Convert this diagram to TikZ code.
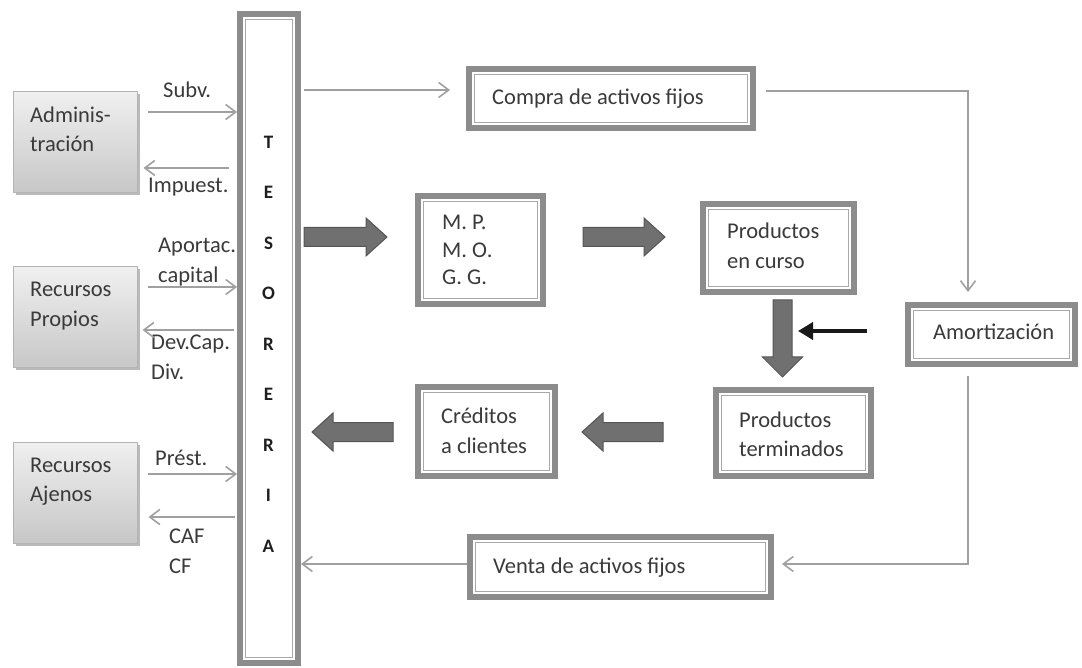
\documentclass[tikz,border=0pt]{standalone}
\usepackage{fontspec}
\setmainfont{Carlito}
\usetikzlibrary{arrows.meta,shadows}
\definecolor{bandc}{HTML}{8C8C8C}
\definecolor{innerc}{HTML}{A8A8A8}
\definecolor{txtc}{HTML}{3A3A3A}
\definecolor{connc}{HTML}{A0A0A0}
\definecolor{fatfill}{HTML}{707070}
\definecolor{fatdraw}{HTML}{555555}
\definecolor{lboxline}{HTML}{B4B4B4}
\begin{document}
\begin{tikzpicture}[x=1pt,y=-1pt,
  every node/.style={font=\fontsize{22.5}{29}\selectfont, text=txtc},
  dbox/.style={rectangle, draw=bandc, line width=6pt, fill=white, inner sep=0pt,
    path picture={\draw[innerc, line width=1.1pt]
      ([shift={(5.5pt,-5.5pt)}]path picture bounding box.north west) rectangle
      ([shift={(-5.5pt,5.5pt)}]path picture bounding box.south east);}},
  lbox/.style={rectangle, draw=lboxline, line width=1pt, inner sep=0pt,
    top color=black!6, bottom color=black!22, minimum width=124pt, minimum height=101pt,
    drop shadow={shadow xshift=2.5pt, shadow yshift=-2.5pt, fill=black!45, opacity=0.6}},
  lbl/.style={inner sep=0pt, anchor=base west, align=left},
  flow/.style={draw=connc, line width=1.6pt, -{Straight Barb[length=10pt,width=15pt,line width=1.6pt]}},
  blk/.style={draw=black!90, line width=4.5pt, -{Triangle[length=15pt,width=17pt]}},
  fat/.style={draw=fatdraw, fill=fatfill, line width=1pt, line join=miter}
]
\fill[white] (0,0) rectangle (1082,668);
\useasboundingbox (0,0) rectangle (1082,668);

% Tesoreria column
\node[dbox, minimum width=58pt, minimum height=649pt] (tes) at (269,338.5) {};
\node[inner sep=0pt, anchor=base, align=center, text=black!88,
      font=\fontsize{19}{50.5}\selectfont\bfseries] (testext) at (268.5,552)
      {T\\E\\S\\O\\R\\E\\R\\I\\A};

% left boxes
\node[lbox] (admin) at (75,142.5) {};
\node[lbox] (propios) at (75,317.5) {};
\node[lbox] (ajenos) at (75,492.5) {};
\node[lbl] (tadmin) at (30,152) {Adminis-\\tración};
\node[lbl, font=\fontsize{22.5}{30}\selectfont] (tpropios) at (30,327) {Recursos\\Propios};
\node[lbl] (tajenos) at (30,501) {Recursos\\Ajenos};

% double boxes
\node[dbox, minimum width=284pt, minimum height=59pt] (compra) at (611,98.5) {};
\node[dbox, minimum width=125pt, minimum height=108pt] (mp) at (480.5,250) {};
\node[dbox, minimum width=151pt, minimum height=88pt] (curso) at (778.5,248) {};
\node[dbox, minimum width=167pt, minimum height=59pt] (amort) at (991.5,334.5) {};
\node[dbox, minimum width=155pt, minimum height=86pt] (term) at (793.5,433) {};
\node[dbox, minimum width=137pt, minimum height=89pt] (cred) at (486.5,431.5) {};
\node[dbox, minimum width=301pt, minimum height=60pt] (venta) at (620.5,567) {};

\node[lbl] (tcompra) at (492,105) {Compra de activos fijos};
\node[lbl, font=\fontsize{22.5}{27.5}\selectfont] (tmp) at (442,285) {M. P.\\M. O.\\G. G.};
\node[lbl, font=\fontsize{22.5}{30}\selectfont] (tcurso) at (727,269) {Productos\\en curso};
\node[lbl] (tamort) at (933,340) {Amortización};
\node[lbl] (tterm) at (739,456) {Productos\\terminados};
\node[lbl, font=\fontsize{22.5}{30}\selectfont] (tcred) at (441,453) {Créditos\\a clientes};
\node[lbl] (tventa) at (493,573) {Venta de activos fijos};

% flow labels
\node[lbl] (lsubv) at (163,98) {Subv.};
\node[lbl] (limp) at (148,193) {Impuest.};
\node[lbl, font=\fontsize{22.5}{30}\selectfont] (lapor) at (158,283) {Aportac.\\capital};
\node[lbl, font=\fontsize{22.5}{30}\selectfont] (ldev) at (151,380) {Dev.Cap.\\Div.};
\node[lbl] (lprest) at (155,465) {Prést.};
\node[lbl, font=\fontsize{22.5}{30}\selectfont] (lcaf) at (169,573) {CAF\\CF};

% thin flows left
\draw[flow, shorten <=10pt] (admin.east |- 0,112) -- (tes.west |- 0,112);
\draw[flow, shorten <=8pt, shorten >=6pt] (tes.west |- 0,168) -- (admin.east |- 0,168);
\draw[flow, shorten <=10pt] (propios.east |- 0,287) -- (tes.west |- 0,287);
\draw[flow, shorten <=3pt, shorten >=5pt] (tes.west |- 0,330) -- (propios.east |- 0,330);
\draw[flow, shorten <=10pt] (ajenos.east |- 0,474) -- (tes.west |- 0,474);
\draw[flow, shorten <=2pt, shorten >=11pt] (tes.west |- 0,517) -- (ajenos.east |- 0,517);

% thin flows right
\draw[flow, shorten <=3pt, shorten >=16pt] (tes.east |- 0,90) -- (compra.west |- 0,90);
\draw[flow, shorten <=10pt, shorten >=10pt] (compra.east |- 0,91) -| (968,0 |- amort.north);
\draw[flow, shorten <=9pt, shorten >=8pt] (968,0 |- amort.south) |- (venta.east |- 0,564);
\draw[flow] (venta.west |- 0,564) -- (tes.east |- 0,564);

% black arrow from Amortizacion
\coordinate (bk) at (798,331);
\draw[blk, shorten <=38pt] (amort.west |- bk) -- (bk);

% fat arrows
\path[fat] (304,227.5) -- (366,227.5) -- (366,218) -- (387,237) -- (366,256) -- (366,246.5) -- (304,246.5) -- cycle;
\path[fat] (583,227.5) -- (644,227.5) -- (644,218) -- (665,237) -- (644,256) -- (644,246.5) -- (583,246.5) -- cycle;
\path[fat] (773,300) -- (773,357) -- (762.5,357) -- (782.5,377) -- (802.5,357) -- (792,357) -- (792,300) -- cycle;
\path[fat] (393,422.5) -- (333,422.5) -- (333,413) -- (312,432) -- (333,451) -- (333,441.5) -- (393,441.5) -- cycle;
\path[fat] (663,422.5) -- (603,422.5) -- (603,413) -- (582,432) -- (603,451) -- (603,441.5) -- (663,441.5) -- cycle;
\end{tikzpicture}
\end{document}
